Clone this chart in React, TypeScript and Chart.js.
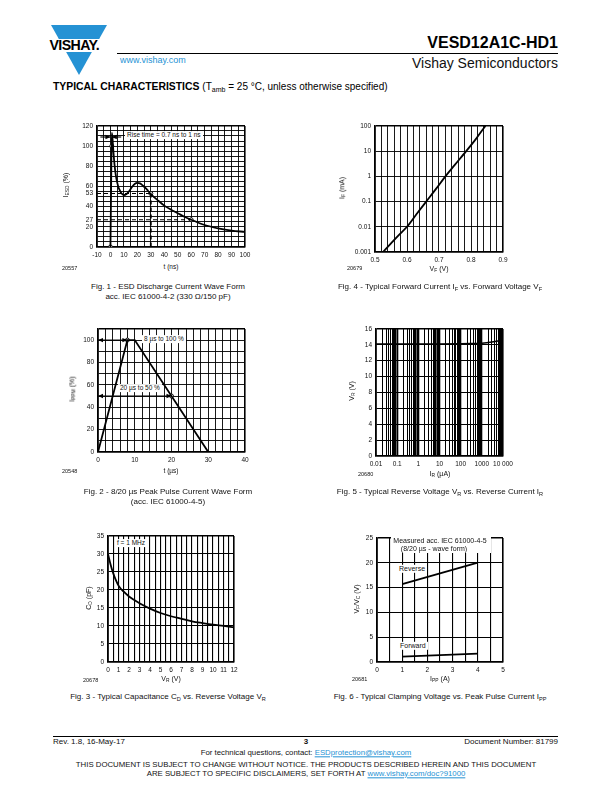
import React, { useEffect, useRef } from 'react';
import { Chart, registerables } from 'chart.js';
Chart.register(...registerables);

const FONT = '"Liberation Sans", Arial, Helvetica, sans-serif';
const BLUE = '#2592d4';

// ---------- Fig. 1 : ESD discharge current wave form ----------
const esdTime = [0, 0.5, 1, 1.5, 2, 3, 4, 5, 6, 7, 8, 10, 12, 14, 16, 18, 20, 22, 24, 26, 28, 30, 35, 40, 45, 50, 55, 60, 70, 80, 90, 100];
const esdCurrent = [0, 60, 113, 108, 98, 82, 71, 64, 59, 56, 53.5, 51.5, 52.5, 55.5, 59.5, 62.5, 63.5, 63, 61, 58.5, 55.5, 52.5, 46.5, 41, 37, 33.5, 30, 27, 21.8, 18.5, 16.2, 15];
const esdMarkT = [0, 1, 30, 60];
const esdMarkI = [0, 100, 53, 27];
const esdXTicks = [-10, 0, 10, 20, 30, 40, 50, 60, 70, 80, 90, 100];
const esdYTicks = [0, 20, 27, 40, 53, 60, 80, 100, 120];

// ---------- Fig. 4 : forward current vs forward voltage ----------
const fwdVoltage = [0.525, 0.55, 0.575, 0.6, 0.63, 0.66, 0.69, 0.72, 0.75, 0.785, 0.815, 0.845];
const fwdCurrent = [0.001, 0.0022, 0.0048, 0.01, 0.032, 0.1, 0.31, 1, 2.9, 10, 30, 100];
const fig4XTicks = [0.5, 0.6, 0.7, 0.8, 0.9];
const fig4YTicks = [0.001, 0.01, 0.1, 1, 10, 100];

// ---------- Fig. 2 : 8/20 us pulse ----------
const pulseTime = [0, 8, 10, 30, 40];
const pulseCurrent = [0, 100, 100, 0, 0];
const pulseMarkT = [8, 20];
const pulseMarkI = [100, 50];
const fig2XTicks = [0, 10, 20, 30, 40];
const fig2YTicks = [0, 20, 40, 60, 80, 100];

// ---------- Fig. 5 : reverse voltage vs reverse current ----------
const revCurrent = [0.01, 0.1, 1, 10, 100, 300, 1000, 3000, 10000];
const revVoltage = [14.1, 14.1, 14.1, 14.1, 14.12, 14.15, 14.2, 14.35, 14.6];
const fig5XTicks = [0.01, 0.1, 1, 10, 100, 1000, 10000];
const fig5YTicks = [0, 2, 4, 6, 8, 10, 12, 14, 16];

// ---------- Fig. 3 : capacitance vs reverse voltage ----------
const capVoltage = [0, 0.25, 0.5, 0.75, 1, 1.5, 2, 2.5, 3, 4, 5, 6, 7, 8, 9, 10, 11, 12];
const capValue = [30, 27, 24.6, 22.7, 21.2, 19.5, 18.2, 17.2, 16.3, 14.8, 13.6, 12.7, 12, 11.3, 10.8, 10.35, 10, 9.6];
const fig3XTicks = [0, 1, 2, 3, 4, 5, 6, 7, 8, 9, 10, 11, 12];
const fig3YTicks = [0, 5, 10, 15, 20, 25, 30, 35];

// ---------- Fig. 6 : clamping voltage vs peak pulse current ----------
const clampCurrent = [1, 4];
const reverseClamp = [15.7, 20];
const forwardClamp = [1.1, 1.7];
const fig6XTicks = [0, 1, 2, 3, 4, 5];
const fig6YTicks = [0, 5, 10, 15, 20, 25];

const PAD = { l: 34, t: 6, r: 14, b: 16 };

type Rect = { l: number; t: number; w: number; h: number };

function range(min: number, max: number, step: number) {
  const n = Math.round((max - min) / step);
  return Array.from({ length: n + 1 }, (_, i) => Number((min + i * step).toFixed(6)));
}
function logGrid(d0: number, d1: number) {
  const out: number[] = [];
  for (let d = d0; d < d1; d++) for (let m = 1; m <= 9; m++) out.push(Number((m * Math.pow(10, d)).toPrecision(6)));
  out.push(Number(Math.pow(10, d1).toPrecision(6)));
  return out;
}
const near = (a: number, b: number) => Math.abs(a - b) <= Math.abs(b) * 1e-6 + 1e-9;

type AxisOpt = {
  dir: 'x' | 'y';
  type?: 'linear' | 'logarithmic';
  min: number;
  max: number;
  grid: number[];
  labels: number[];
  fmt?: (v: number) => string;
  noGrid?: number[];
  width?: (v: number) => number;
};

function axis(o: AxisOpt) {
  const all = Array.from(new Set([...o.grid, ...o.labels])).sort((a, b) => a - b);
  const isLabel = (v: number) => o.labels.some((l) => near(v, l));
  return {
    type: o.type || 'linear',
    min: o.min,
    max: o.max,
    afterBuildTicks: (s: any) => {
      s.ticks = all.map((v) => ({ value: v }));
    },
    afterFit: (s: any) => {
      if (o.dir === 'y') s.width = PAD.l;
      else s.height = PAD.b;
    },
    ticks: {
      autoSkip: false,
      maxRotation: 0,
      minRotation: 0,
      padding: 4,
      color: '#111',
      font: { family: FONT, size: 6.5 },
      callback: (v: any) => {
        const n = Number(v);
        return isLabel(n) ? (o.fmt ? o.fmt(n) : String(n)) : '';
      },
    },
    grid: {
      drawTicks: false,
      color: (c: any) =>
        c.tick && o.noGrid && o.noGrid.some((g) => near(c.tick.value, g)) ? 'rgba(0,0,0,0)' : '#000',
      lineWidth: (c: any) => {
        const v = c.tick ? c.tick.value : undefined;
        if (v === undefined) return 1;
        if (near(v, o.max) || near(v, o.min)) return 1.6;
        return o.width ? o.width(v) : 0.9;
      },
    },
    border: { display: true, color: '#000', width: 1.6 },
  };
}

type Arrow = { x1: number; y1: number; x2: number; y2: number; h1?: boolean; h2?: boolean };

function arrowPlugin(arrows: Arrow[]) {
  return {
    id: 'arrows',
    afterDatasetsDraw(chart: any) {
      const { ctx, scales } = chart;
      const head = (x: number, y: number, dx: number) => {
        ctx.beginPath();
        ctx.moveTo(x, y);
        ctx.lineTo(x - dx * 5, y - 2.2);
        ctx.lineTo(x - dx * 5, y + 2.2);
        ctx.closePath();
        ctx.fill();
      };
      ctx.save();
      ctx.strokeStyle = '#000';
      ctx.fillStyle = '#000';
      ctx.lineWidth = 1.1;
      arrows.forEach((a) => {
        const x1 = scales.x.getPixelForValue(a.x1);
        const x2 = scales.x.getPixelForValue(a.x2);
        const y1 = scales.y.getPixelForValue(a.y1);
        const y2 = scales.y.getPixelForValue(a.y2);
        ctx.beginPath();
        ctx.moveTo(x1, y1);
        ctx.lineTo(x2, y2);
        ctx.stroke();
        const d = Math.sign(x2 - x1) || 1;
        if (a.h1) head(x1, y1, -d);
        if (a.h2) head(x2, y2, d);
      });
      ctx.restore();
    },
  };
}

function pts(xs: number[], ys: number[]) {
  return xs.map((x, i) => ({ x, y: ys[i] }));
}

function line(data: any[], extra: any = {}) {
  return {
    data,
    borderColor: '#000',
    borderWidth: 1.8,
    pointRadius: 0,
    fill: false,
    cubicInterpolationMode: 'monotone',
    ...extra,
  };
}
function markers(data: any[]) {
  return {
    data,
    showLine: false,
    pointRadius: 2,
    pointBorderWidth: 0.9,
    pointBackgroundColor: '#fff',
    pointBorderColor: '#000',
  };
}

function makeConfig(datasets: any[], x: any, y: any, arrows: Arrow[] = []) {
  return {
    type: 'line',
    data: { datasets },
    options: {
      animation: false,
      responsive: false,
      maintainAspectRatio: false,
      devicePixelRatio: 1,
      events: [],
      layout: { padding: { top: PAD.t, right: PAD.r, left: 0, bottom: 0 } },
      plugins: { legend: { display: false }, tooltip: { enabled: false }, title: { display: false } },
      scales: { x, y },
    },
    plugins: [arrowPlugin(arrows)],
  };
}

function ChartBox({ rect, build }: { rect: Rect; build: () => any }) {
  const ref = useRef<HTMLCanvasElement>(null);
  useEffect(() => {
    const chart = new Chart(ref.current as HTMLCanvasElement, build());
    return () => chart.destroy();
  }, []);
  const W = rect.w + PAD.l + PAD.r;
  const H = rect.h + PAD.t + PAD.b;
  return (
    <canvas
      ref={ref}
      width={W}
      height={H}
      style={{ position: 'absolute', left: rect.l - PAD.l, top: rect.t - PAD.t, width: W, height: H }}
    />
  );
}

type TxtProps = {
  x: number;
  y: number;
  size?: number;
  bold?: boolean;
  align?: 'left' | 'center' | 'right';
  color?: string;
  rotate?: boolean;
  bg?: boolean;
  children: any;
};
function Txt({ x, y, size = 7, bold, align = 'left', color = '#111', rotate, bg, children }: TxtProps) {
  const tx = align === 'center' ? '-50%' : align === 'right' ? '-100%' : '0';
  return (
    <div
      style={{
        position: 'absolute',
        left: x,
        top: y,
        fontFamily: FONT,
        fontSize: size,
        fontWeight: bold ? 700 : 400,
        color,
        lineHeight: `${size * 1.2}px`,
        whiteSpace: 'nowrap',
        transform: rotate ? `translate(-50%, -50%) rotate(-90deg)` : `translate(${tx}, -50%)`,
        background: bg ? '#fff' : 'transparent',
        padding: bg ? '0 2px' : 0,
      }}
    >
      {children}
    </div>
  );
}
const Sub = ({ children }: any) => (
  <sub style={{ fontSize: '70%', verticalAlign: 'baseline', position: 'relative', top: '0.3em' }}>{children}</sub>
);

const R1: Rect = { l: 97, t: 124, w: 148, h: 123 };
const R4: Rect = { l: 375, t: 124, w: 128, h: 128 };
const R2: Rect = { l: 98, t: 327, w: 147, h: 125 };
const R5: Rect = { l: 376, t: 327, w: 127, h: 129 };
const R3: Rect = { l: 108, t: 534, w: 126, h: 128 };
const R6: Rect = { l: 377, t: 536, w: 126, h: 126 };

function fig1() {
  const m = pts(esdMarkT, esdMarkI);
  return makeConfig(
    [
      line(pts(esdTime, esdCurrent)),
      line([{ x: -10, y: esdMarkI[2] }, { x: esdMarkT[2], y: esdMarkI[2] }], { borderDash: [4, 3], borderWidth: 1.1, cubicInterpolationMode: 'default' }),
      line([{ x: esdMarkT[2], y: esdMarkI[2] }, { x: esdMarkT[2], y: 0 }], { borderDash: [4, 3], borderWidth: 1.8, cubicInterpolationMode: 'default' }),
      line([{ x: -10, y: esdMarkI[3] }, { x: esdMarkT[3], y: esdMarkI[3] }], { borderDash: [4, 3], borderWidth: 1.1, cubicInterpolationMode: 'default' }),
      markers(m),
    ],
    axis({ dir: 'x', min: -10, max: 100, grid: range(-10, 100, 5), labels: esdXTicks }),
    axis({ dir: 'y', min: 0, max: 120, grid: range(0, 120, 5), labels: esdYTicks, noGrid: [27, 53] }),
    [
      { x1: -7.5, y1: 109, x2: 0, y2: 109, h2: true },
      { x1: 8, y1: 109, x2: 1, y2: 109, h2: true },
    ]
  );
}

function fig4() {
  return makeConfig(
    [line(pts(fwdVoltage, fwdCurrent))],
    axis({ dir: 'x', min: 0.5, max: 0.9, grid: range(0.5, 0.9, 0.02), labels: fig4XTicks }),
    axis({ dir: 'y', type: 'logarithmic', min: 0.001, max: 100, grid: fig4YTicks, labels: fig4YTicks })
  );
}

function fig2() {
  return makeConfig(
    [line(pts(pulseTime, pulseCurrent), { cubicInterpolationMode: 'default', tension: 0 }), markers(pts(pulseMarkT, pulseMarkI))],
    axis({ dir: 'x', min: 0, max: 40, grid: range(0, 40, 2), labels: fig2XTicks }),
    axis({ dir: 'y', min: 0, max: 110, grid: range(0, 110, 10), labels: fig2YTicks }),
    [
      { x1: 0, y1: pulseMarkI[0], x2: pulseMarkT[0], y2: pulseMarkI[0], h1: true, h2: true },
      { x1: 0, y1: pulseMarkI[1], x2: pulseMarkT[1], y2: pulseMarkI[1], h1: true, h2: true },
    ]
  );
}

function fig5() {
  const fmt = (v: number) => (v >= 10000 ? '10 000' : String(v));
  return makeConfig(
    [line(pts(revCurrent, revVoltage), { borderWidth: 1.6 })],
    axis({
      dir: 'x',
      type: 'logarithmic',
      min: 0.01,
      max: 10000,
      grid: logGrid(-2, 4),
      labels: fig5XTicks,
      fmt,
      width: (v) => {
        const m = Math.round(v / Math.pow(10, Math.floor(Math.log10(v) + 1e-9)));
        return m >= 7 ? 1.6 : m === 1 ? 1.3 : 1.0;
      },
    }),
    axis({ dir: 'y', min: 0, max: 16, grid: range(0, 16, 2), labels: fig5YTicks, width: () => 1.1 })
  );
}

function fig3() {
  return makeConfig(
    [line(pts(capVoltage, capValue))],
    axis({ dir: 'x', min: 0, max: 12, grid: range(0, 12, 0.5), labels: fig3XTicks, width: () => 1.1 }),
    axis({ dir: 'y', min: 0, max: 35, grid: range(0, 35, 5), labels: fig3YTicks, width: () => 1.1 })
  );
}

function fig6() {
  return makeConfig(
    [
      line(pts(clampCurrent, reverseClamp), { cubicInterpolationMode: 'default' }),
      line(pts(clampCurrent, forwardClamp), { cubicInterpolationMode: 'default' }),
    ],
    axis({ dir: 'x', min: 0, max: 5, grid: range(0, 5, 0.5), labels: fig6XTicks, width: () => 1.1 }),
    axis({ dir: 'y', min: 0, max: 25, grid: range(0, 25, 5), labels: fig6YTicks, width: () => 1.1 })
  );
}

function Logo() {
  return (
    <>
      <svg width={612} height={100} style={{ position: 'absolute', left: 0, top: 0 }}>
        <polygon points="51,25 107,25 79,75" fill={BLUE} />
        <rect x={46} y={39} width={66} height={13} fill="#fff" />
      </svg>
      <Txt x={49.5} y={45.5} size={14.2} bold color="#000">
        <span style={{ letterSpacing: -0.6 }}>VISHAY.</span>
      </Txt>
    </>
  );
}

export default function App() {
  return (
    <div style={{ position: 'absolute', left: 0, top: 0, width: 612, height: 792, background: '#fff', overflow: 'hidden' }}>
      <Logo />
      <Txt x={558} y={43} size={16} bold align="right" color="#000">VESD12A1C-HD1</Txt>
      <div style={{ position: 'absolute', left: 117, top: 52.5, width: 441, height: 1.2, background: '#000' }} />
      <Txt x={120} y={60} size={9} color={BLUE}>www.vishay.com</Txt>
      <Txt x={558} y={63} size={14} align="right" color="#111">Vishay Semiconductors</Txt>
      <Txt x={53} y={88} size={10.4} color="#000">
        <b>TYPICAL CHARACTERISTICS</b>{' '}
        <span style={{ fontSize: 10 }}>
          (T<Sub>amb</Sub> = 25 °C, unless otherwise specified)
        </span>
      </Txt>

      {/* Fig 1 */}
      <ChartBox rect={R1} build={fig1} />
      <Txt x={125} y={135} size={6.5} bg>Rise time = 0.7 ns to 1 ns</Txt>
      <Txt x={67} y={185} size={7} rotate>I<Sub>ESD</Sub> (%)</Txt>
      <Txt x={171} y={267} size={6.5} align="center">t (ns)</Txt>
      <Txt x={62} y={268} size={5.5}>20557</Txt>
      <Txt x={168} y={287} size={8} align="center">Fig. 1 - ESD Discharge Current Wave Form</Txt>
      <Txt x={168} y={296.5} size={8} align="center">acc. IEC 61000-4-2 (330 Ω/150 pF)</Txt>

      {/* Fig 4 */}
      <ChartBox rect={R4} build={fig4} />
      <Txt x={343} y={188} size={7} rotate>I<Sub>F</Sub> (mA)</Txt>
      <Txt x={439} y={270} size={7} align="center">V<Sub>F</Sub> (V)</Txt>
      <Txt x={347} y={268} size={5.5}>20679</Txt>
      <Txt x={440} y={287} size={8} align="center">
        Fig. 4 - Typical Forward Current I<Sub>F</Sub> vs. Forward Voltage V<Sub>F</Sub>
      </Txt>

      {/* Fig 2 */}
      <ChartBox rect={R2} build={fig2} />
      <Txt x={142} y={339} size={6.5} bg>8 µs to 100 %</Txt>
      <Txt x={118} y={388} size={6.5} bg>20 µs to 50 %</Txt>
      <Txt x={73} y={389} size={7} rotate>I<Sub>PPM</Sub> (%)</Txt>
      <Txt x={171} y={471} size={6.5} align="center">t (µs)</Txt>
      <Txt x={62} y={471} size={5.5}>20548</Txt>
      <Txt x={168} y={492} size={8} align="center">Fig. 2 - 8/20 µs Peak Pulse Current Wave Form</Txt>
      <Txt x={168} y={501.5} size={8} align="center">(acc. IEC 61000-4-5)</Txt>

      {/* Fig 5 */}
      <ChartBox rect={R5} build={fig5} />
      <Txt x={353} y={391} size={7} rotate>V<Sub>R</Sub> (V)</Txt>
      <Txt x={440} y={475} size={7} align="center">I<Sub>R</Sub> (µA)</Txt>
      <Txt x={358} y={474} size={5.5}>20680</Txt>
      <Txt x={440} y={492} size={8} align="center">
        Fig. 5 - Typical Reverse Voltage V<Sub>R</Sub> vs. Reverse Current I<Sub>R</Sub>
      </Txt>

      {/* Fig 3 */}
      <ChartBox rect={R3} build={fig3} />
      <Txt x={115} y={543} size={6.5} bg>f = 1 MHz</Txt>
      <Txt x={90} y={598} size={7} rotate>C<Sub>D</Sub> (pF)</Txt>
      <Txt x={171} y={680} size={7} align="center">V<Sub>R</Sub> (V)</Txt>
      <Txt x={83} y={680} size={5.5}>20678</Txt>
      <Txt x={168} y={697} size={8} align="center">
        Fig. 3 - Typical Capacitance C<Sub>D</Sub> vs. Reverse Voltage V<Sub>R</Sub>
      </Txt>

      {/* Fig 6 */}
      <ChartBox rect={R6} build={fig6} />
      <div style={{ position: 'absolute', left: 391, top: 537, width: 100, height: 16, background: '#fff' }} />
      <Txt x={440} y={541} size={7} align="center">Measured acc. IEC 61000-4-5</Txt>
      <Txt x={434} y={549} size={7} align="center">(8/20 µs - wave form)</Txt>
      <Txt x={397} y={569} size={7} bg>Reverse</Txt>
      <Txt x={398} y={646} size={7} bg>Forward</Txt>
      <Txt x={358} y={599} size={7} rotate>V<Sub>F</Sub>/V<Sub>C</Sub> (V)</Txt>
      <Txt x={440} y={680} size={7} align="center">I<Sub>PP</Sub> (A)</Txt>
      <Txt x={352} y={679} size={5.5}>20681</Txt>
      <Txt x={440} y={697} size={8} align="center">
        Fig. 6 - Typical Clamping Voltage vs. Peak Pulse Current I<Sub>PP</Sub>
      </Txt>

      {/* Footer */}
      <div style={{ position: 'absolute', left: 53, top: 736, width: 505, height: 1.2, background: '#000' }} />
      <Txt x={53} y={742} size={8}>Rev. 1.8, 16-May-17</Txt>
      <Txt x={306} y={742} size={8} bold align="center">3</Txt>
      <Txt x={558} y={742} size={8} align="right">Document Number: 81799</Txt>
      <Txt x={306} y={753} size={7.8} align="center">
        For technical questions, contact:{' '}
        <span style={{ color: BLUE, textDecoration: 'underline' }}>ESDprotection@vishay.com</span>
      </Txt>
      <Txt x={306} y={765} size={7.8} align="center">
        THIS DOCUMENT IS SUBJECT TO CHANGE WITHOUT NOTICE. THE PRODUCTS DESCRIBED HEREIN AND THIS DOCUMENT
      </Txt>
      <Txt x={306} y={774} size={7.8} align="center">
        ARE SUBJECT TO SPECIFIC DISCLAIMERS, SET FORTH AT{' '}
        <span style={{ color: BLUE, textDecoration: 'underline' }}>www.vishay.com/doc?91000</span>
      </Txt>
    </div>
  );
}
